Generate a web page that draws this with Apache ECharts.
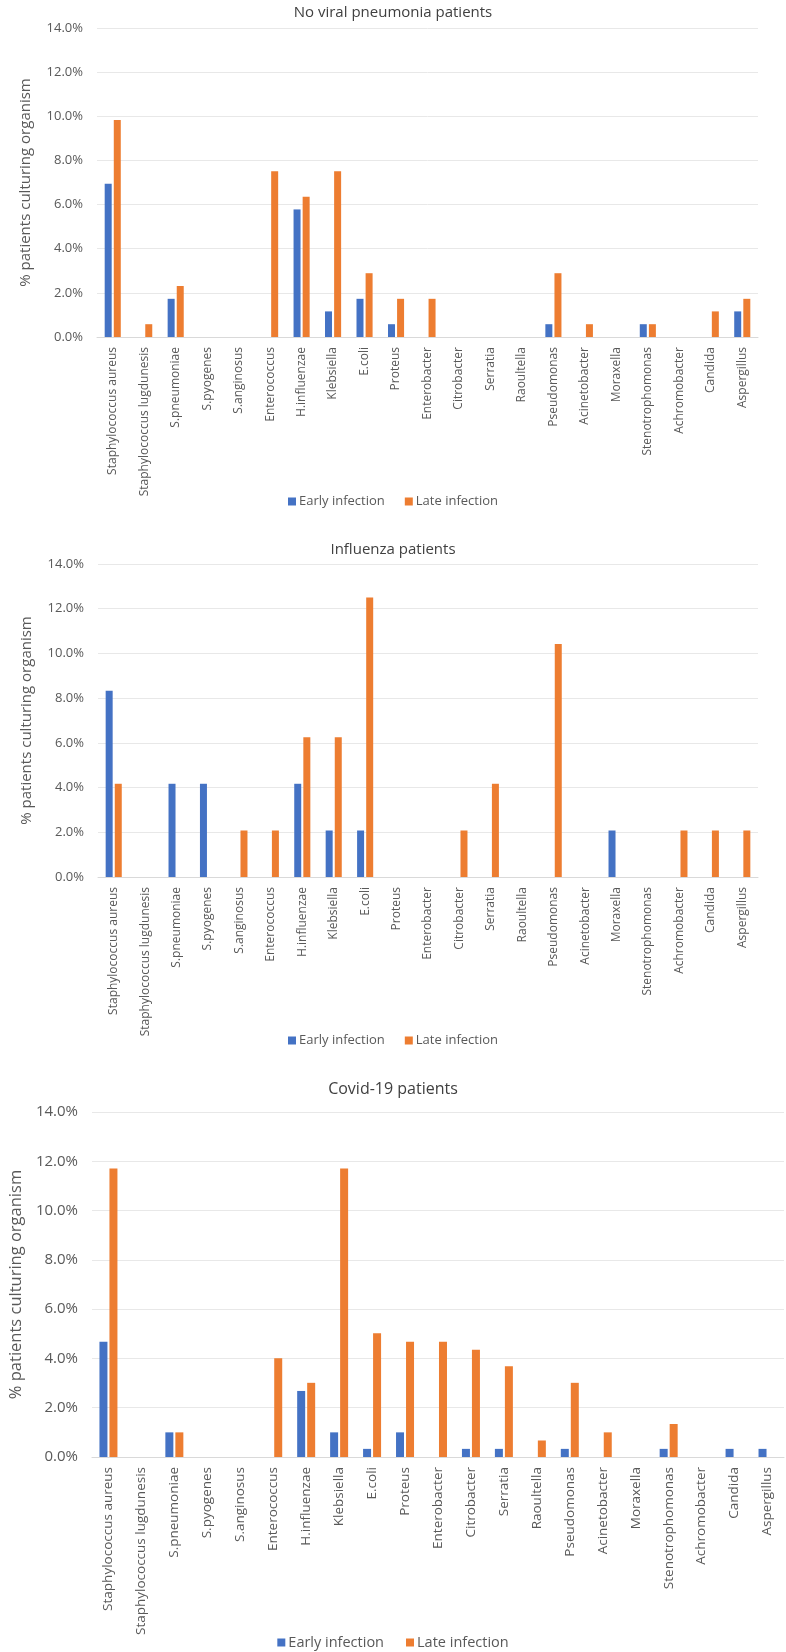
<!DOCTYPE html>
<html><head><meta charset="utf-8">
<script src="https://cdn.jsdelivr.net/npm/echarts@6/dist/echarts.min.js"></script>
<style>html,body{margin:0;padding:0;background:#fff}#c{width:786px;height:1652px}</style>
</head><body><div id="c"></div>
<script>
const categories = ["Staphylococcus aureus","Staphylococcus lugdunesis","S.pneumoniae","S.pyogenes","S.anginosus","Enterococcus","H.influenzae","Klebsiella","E.coli","Proteus","Enterobacter","Citrobacter","Serratia","Raoultella","Pseudomonas","Acinetobacter","Moraxella","Stenotrophomonas","Achromobacter","Candida","Aspergillus"];
const titles = ["No viral pneumonia patients","Influenza patients","Covid-19 patients"];
const seriesNames = ["Early infection","Late infection"];
const yAxisName = "% patients culturing organism";

const noViralEarly = [6.94,0,1.73,0,0,0,5.78,1.16,1.73,0.58,0,0,0,0,0.58,0,0,0.58,0,0,1.16];
const noViralLate  = [9.83,0.58,2.31,0,0,7.51,6.36,7.51,2.89,1.73,1.73,0,0,0,2.89,0.58,0,0.58,0,1.16,1.73];
const influenzaEarly = [8.33,0,4.17,4.17,0,0,4.17,2.08,2.08,0,0,0,0,0,0,0,2.08,0,0,0,0];
const influenzaLate  = [4.17,0,0,0,2.08,2.08,6.25,6.25,12.5,0,0,2.08,4.17,0,10.42,0,0,0,2.08,2.08,2.08];
const covidEarly = [4.68,0,1.00,0,0,0,2.68,1.00,0.33,1.00,0,0.33,0.33,0,0.33,0,0,0.33,0,0.33,0.33];
const covidLate  = [11.71,0,1.00,0,0,4.01,3.01,11.71,5.02,4.68,4.68,4.35,3.68,0.67,3.01,1.00,0,1.34,0,0,0];

const FONT = "Open Sans";
const TXT = "#595959";
const BLUE = "#4472C4", ORANGE = "#ED7D31";

// layout per panel
const panels = [
  {top:28, height:309, left:97, right:28, titleTop:0, titleSize:15, legendTop:490, tick:13, cat:12, name:15, nameGap:64, leg:13, legGap:20, bw:7, gap:'30%', early:noViralEarly, late:noViralLate},
  {top:564, height:313, left:98, right:28, titleTop:537, titleSize:15, legendTop:1029, tick:13, cat:12, name:15, nameGap:64, leg:13, legGap:20, bw:7, gap:'30%', early:influenzaEarly, late:influenzaLate},
  {top:1112, height:345, left:84, right:2, titleTop:1076, titleSize:16, legendTop:1630, tick:15, cat:13.5, name:16.5, nameGap:62, leg:14.5, legGap:22, bw:8, gap:'25%', early:covidEarly, late:covidLate}
];

const option = {
  animation:false,
  backgroundColor:'#fff',
  textStyle:{fontFamily:FONT},
  title:[], legend:[], grid:[], xAxis:[], yAxis:[], series:[]
};
panels.forEach((p,i)=>{
  option.title.push({text:titles[i], left:'center', top:p.titleTop,
    textStyle:{fontFamily:FONT, fontSize:p.titleSize, fontWeight:'normal', color:'#404040'}});
  option.legend.push({data:seriesNames, left:'center', top:p.legendTop, icon:'rect',
    itemWidth:8, itemHeight:8, itemGap:p.legGap,
    textStyle:{fontFamily:FONT, fontSize:p.leg, color:TXT, padding:[0,0,0,-2]}});
  option.grid.push({left:p.left, right:p.right, top:p.top, height:p.height, containLabel:false});
  option.xAxis.push({type:'category', gridIndex:i, data:categories,
    axisLine:{lineStyle:{color:'#d9d9d9'}}, axisTick:{show:false},
    axisLabel:{rotate:90, interval:0, margin:10, fontFamily:FONT, fontSize:p.cat, color:TXT}});
  option.yAxis.push({type:'value', gridIndex:i, min:0, max:14, interval:2,
    name:yAxisName, nameLocation:'middle', nameGap:p.nameGap,
    nameTextStyle:{fontFamily:FONT, fontSize:p.name, color:TXT},
    axisLine:{show:false}, axisTick:{show:false},
    splitLine:{lineStyle:{color:'#e8e8e8'}},
    axisLabel:{margin:14, fontFamily:FONT, fontSize:p.tick, color:TXT, formatter:v=>v.toFixed(1)+'%'}});
  option.series.push({name:seriesNames[0], type:'bar', xAxisIndex:i, yAxisIndex:i, data:p.early,
    barWidth:p.bw, barGap:p.gap, itemStyle:{color:BLUE}});
  option.series.push({name:seriesNames[1], type:'bar', xAxisIndex:i, yAxisIndex:i, data:p.late,
    barWidth:p.bw, barGap:p.gap, itemStyle:{color:ORANGE}});
});
const chart = echarts.init(document.getElementById('c'), null, {renderer:'canvas'});
chart.setOption(option);
</script>
</body></html>
